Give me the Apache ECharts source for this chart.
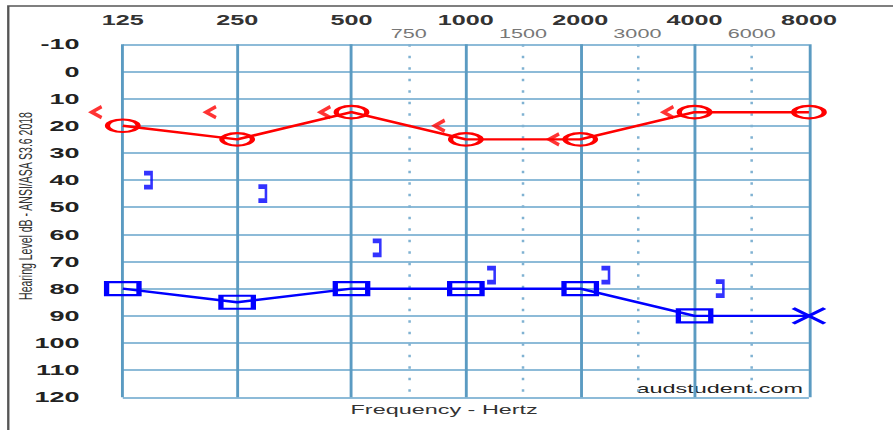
<!DOCTYPE html>
<html>
<head>
<meta charset="utf-8">
<script src="https://cdn.jsdelivr.net/npm/echarts@6/dist/echarts.min.js"></script>
<style>
html,body{margin:0;padding:0;background:#fff;overflow:hidden;}
#wrap{width:893px;height:430px;overflow:hidden;position:relative;background:#fff;}
#c{width:496px;height:430px;transform:scaleX(1.8004);transform-origin:0 0;}
</style>
</head>
<body>
<div id="wrap"><div id="c"></div></div>
<script>
// ---- data ----
const octaveFreqs = ['125', '250', '500', '1000', '2000', '4000', '8000'];
const interFreqs = ['750', '1500', '3000', '6000'];
const interAfter = ['500', '1000', '2000', '4000']; // octave each inter-octave frequency follows
const rightAC = [20, 25, 15, 25, 25, 15, 15];            // O, 125..8000
const rightBCUnmasked = [15, 15, 15, 20, 25, 15];        // <, 125..4000
const leftAC = [80, 85, 80, 80, 80, 90, 90];             // 125..8000
const leftACMasked = [true, true, true, true, true, true, false]; // square if masked, X if not
const leftBCMasked = [40, 45, 65, 75, 75, 80];           // ], 125..4000
const yMin = -10, yMax = 120, yStep = 10;

// ---- positions on the octave scale ----
const interPos = interAfter.map(f => octaveFreqs.indexOf(f) + 0.5);

const ellipsePath = 'path://M0,6 A10,6 0 1,0 20,6 A10,6 0 1,0 0,6 Z';
const ltPath = 'path://M10,0 L0,6 L10,12';
const xPath = 'path://M0,0 L10,10 M10,0 L0,10';
const brPath = 'path://M0,0 L5,0 L5,16 L0,16';
const RED = '#ff0000', BLUE = '#0000ff';
const FONT = '"Liberation Sans", Arial, sans-serif';

const chart = echarts.init(document.getElementById('c'), null, {renderer: 'svg', width: 496, height: 430});
chart.setOption({
  animation: false,
  backgroundColor: 'transparent',
  grid: {left: 68.2, right: 46.7, top: 44.3, bottom: 32.7},
  xAxis: [
    {
      type: 'value', position: 'top', min: 0, max: octaveFreqs.length - 1, interval: 1,
      axisLine: {show: false}, axisTick: {show: false},
      axisLabel: {formatter: v => octaveFreqs[v], fontSize: 14, fontWeight: 'bold', color: '#333', margin: 17.5, fontFamily: FONT},
      splitLine: {show: true, lineStyle: {color: '#5b9bc2', width: 1.6}}
    },
    {
      type: 'value', position: 'top', min: 0, max: octaveFreqs.length - 1,
      axisLine: {show: false},
      axisTick: {show: false, customValues: interPos},
      axisLabel: {customValues: interPos, formatter: v => interFreqs[interPos.indexOf(v)] || '', fontSize: 12, color: '#777', margin: 4.5, fontFamily: FONT},
      splitLine: {show: true, lineStyle: {color: '#80b2d2', width: 1.4, type: [2.5, 9]}}
    }
  ],
  yAxis: {
    type: 'value', inverse: true, min: yMin, max: yMax, interval: yStep,
    axisLine: {show: false}, axisTick: {show: false},
    axisLabel: {fontSize: 15, fontWeight: 'bold', color: '#222', margin: 24, fontFamily: FONT},
    splitLine: {show: true, lineStyle: {color: '#8dbbd8', width: 1.8}}
  },
  series: [
    {
      type: 'line', xAxisIndex: 0, z: 3,
      data: rightAC.map((v, i) => [i, v]),
      symbol: ellipsePath, symbolSize: [17, 12.5],
      itemStyle: {color: 'rgba(0,0,0,0)', borderColor: RED, borderWidth: 2.5},
      lineStyle: {color: RED, width: 2.4},
      emphasis: {disabled: true}
    },
    {
      type: 'scatter', xAxisIndex: 0, z: 3,
      data: rightBCUnmasked.map((v, i) => [i, v]),
      symbol: ltPath, symbolSize: [5.5, 11], symbolOffset: [-14.5, 0],
      itemStyle: {color: 'rgba(0,0,0,0)', borderColor: RED, borderWidth: 2.6},
      emphasis: {disabled: true}
    },
    {
      type: 'line', xAxisIndex: 0, z: 3,
      data: leftAC.map((v, i) => ({
        value: [i, v],
        symbol: leftACMasked[i] ? 'rect' : xPath,
        symbolSize: leftACMasked[i] ? [18, 13] : [17.5, 15.5]
      })),
      itemStyle: {color: 'rgba(0,0,0,0)', borderColor: BLUE, borderWidth: 2.5},
      lineStyle: {color: BLUE, width: 2.4},
      emphasis: {disabled: true}
    },
    {
      type: 'scatter', xAxisIndex: 0, z: 3,
      data: leftBCMasked.map((v, i) => [i, v]),
      symbol: brPath, symbolSize: [4.2, 14], symbolOffset: [13.9, 0],
      itemStyle: {color: 'rgba(0,0,0,0)', borderColor: BLUE, borderWidth: 2.6},
      emphasis: {disabled: true}
    }
  ],
  graphic: [
    {type: 'rect', silent: true, shape: {x: 4.6, y: 6, width: 800, height: 800},
     style: {fill: 'none', stroke: '#555', lineWidth: 1.3}},
    {type: 'text', silent: true, x: 13.9, y: 206, rotation: Math.PI / 2,
     style: {text: 'Hearing Level dB - ANSI/ASA S3.6 2018', font: '10.5px ' + FONT, fill: '#333', align: 'center', verticalAlign: 'middle'}},
    {type: 'text', silent: true, x: 246.7, y: 410,
     style: {text: 'Frequency - Hertz', font: '13px ' + FONT, fill: '#333', align: 'center', verticalAlign: 'middle'}},
    {type: 'text', silent: true, x: 446, y: 389,
     style: {text: 'audstudent.com', font: '13px ' + FONT, fill: '#222', align: 'right', verticalAlign: 'middle'}}
  ]
});
</script>
</body>
</html>
